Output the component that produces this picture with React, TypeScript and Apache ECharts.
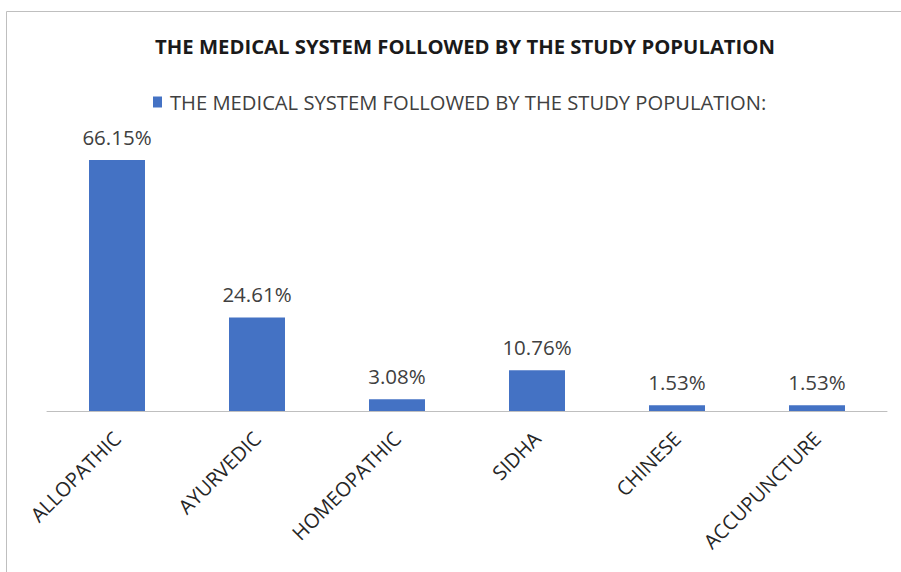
import React, { useEffect, useRef } from "react";
import * as echarts from "echarts";

const categories = ["ALLOPATHIC", "AYURVEDIC", "HOMEOPATHIC", "SIDHA", "CHINESE", "ACCUPUNCTURE"];
const values = [66.15, 24.61, 3.08, 10.76, 1.53, 1.53];
const seriesName = "THE MEDICAL SYSTEM FOLLOWED BY THE STUDY POPULATION:";
const titleText = "THE MEDICAL SYSTEM FOLLOWED BY THE STUDY POPULATION";

export default function App() {
  const ref = useRef<HTMLDivElement>(null);
  useEffect(() => {
    document.body.style.margin = "0";
    const chart = echarts.init(ref.current!, null, { renderer: "svg" });
    const font = "'Open Sans', 'Noto Sans', sans-serif";
    chart.setOption({
      animation: false,
      backgroundColor: "#ffffff",
      textStyle: { fontFamily: font },
      title: {
        text: titleText,
        left: 460,
        textAlign: "center",
        top: 31,
        textStyle: { fontFamily: font, fontSize: 20.3, fontWeight: "bold", color: "#1a1a1a" },
      },
      legend: {
        data: [seriesName],
        left: 148,
        top: 87,
        icon: "rect",
        itemWidth: 9,
        itemHeight: 11,
        itemGap: 10,
        textStyle: { fontFamily: font, fontSize: 20.2, color: "#404040", padding: [0, 0, 0, 3] },
      },
      graphic: [
        {
          type: "rect",
          shape: { x: 6.5, y: 11.5, width: 1000, height: 1000 },
          style: { fill: "none", stroke: "#bfbfbf", lineWidth: 1 },
          silent: true,
        },
      ],
      grid: { left: 47, right: 14, top: 145.4, bottom: 161, containLabel: false },
      xAxis: {
        type: "category",
        data: categories,
        axisLine: { lineStyle: { color: "#bfbfbf", width: 1 } },
        axisTick: { show: false },
        axisLabel: {
          interval: 0,
          rotate: 45,
          fontFamily: font,
          fontSize: 20,
          color: "#262626",
          margin: 24,
        },
      },
      yAxis: {
        type: "value",
        min: 0,
        max: 70,
        show: false,
        splitLine: { show: false },
      },
      series: [
        {
          name: seriesName,
          type: "bar",
          data: values,
          barWidth: "40%",
          itemStyle: { color: "#4472C4" },
          label: {
            show: true,
            position: "top",
            distance: 13,
            fontFamily: font,
            fontSize: 20.5,
            color: "#404040",
            formatter: (p: any) => p.value.toFixed(2) + "%",
          },
        },
      ],
    });
    return () => chart.dispose();
  }, []);
  return <div ref={ref} style={{ width: 901, height: 572 }} />;
}
